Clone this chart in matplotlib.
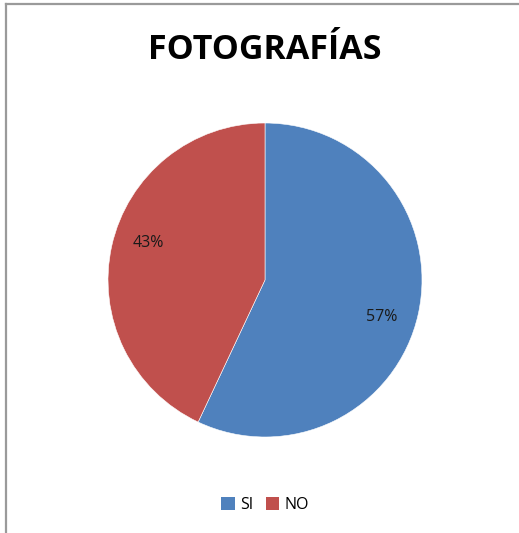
import numpy as np
import matplotlib.pyplot as plt
from matplotlib.lines import Line2D
from matplotlib.patches import Patch

plt.rcParams['font.family'] = ['Open Sans', 'DejaVu Sans']

# data
labels = ["SI", "NO"]
values = [57, 43]
colors = ["#4F81BD", "#C0504D"]
title = "FOTOGRAFÍAS"

W, H = 519, 533
fig = plt.figure(figsize=(W / 100, H / 100), dpi=100)

# pie centre ~ (265, 280) px, radius ~157 px
cx, cy, r = 265, 280, 157
ax = fig.add_axes([(cx - r) / W, (H - cy - r) / H, 2 * r / W, 2 * r / H])
wedges, texts, autotexts = ax.pie(
    values, colors=colors, startangle=90, counterclock=False,
    autopct="%1.0f%%", pctdistance=0.78, radius=1,
    wedgeprops=dict(edgecolor="white", linewidth=0.4),
    textprops=dict(fontsize=11.5, color="#1a1a1a"))
ax.set_xlim(-1, 1)
ax.set_ylim(-1, 1)
ax.set_aspect("equal")

# excel "best fit" puts the labels a little clockwise of the wedge middle
for w, t in zip(wedges, autotexts):
    mid = np.deg2rad((w.theta1 + w.theta2) / 2 - 5)
    t.set_position((0.78 * np.cos(mid), 0.78 * np.sin(mid)))

fig.text(cx / W, 1 - 50 / H, title, ha="center", va="center",
         fontsize=24.5, fontweight="bold", color="black")

handles = [Patch(facecolor=c, edgecolor="none") for c in colors]
fig.legend(handles, labels, loc="center", bbox_to_anchor=(cx / W, 1 - 505 / H),
           ncol=2, frameon=False, fontsize=11.5, handlelength=0.85,
           handleheight=0.85, handletextpad=0.3, columnspacing=0.8)

# chart frame (only top and left edges visible in the crop)
fig.add_artist(Line2D([6 / W, 6 / W], [0, 1 - 4 / H], color="#9a9a9a", lw=1.6,
                      transform=fig.transFigure))
fig.add_artist(Line2D([6 / W, 1], [1 - 4 / H, 1 - 4 / H], color="#9a9a9a", lw=1.6,
                      transform=fig.transFigure))

fig.savefig("out.png", dpi=100, facecolor="white")
